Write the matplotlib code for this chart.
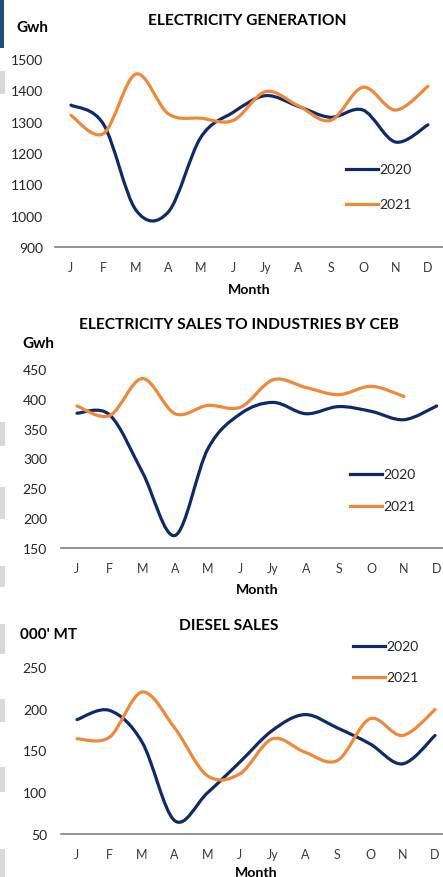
import numpy as np
import matplotlib
matplotlib.use("Agg")
import matplotlib.pyplot as plt
from matplotlib.path import Path
from matplotlib.patches import PathPatch, Rectangle
from matplotlib.lines import Line2D

plt.rcParams['font.family'] = ['Lato', 'DejaVu Sans']

months = ["J", "F", "M", "A", "M", "J", "Jy", "A", "S", "O", "N", "D"]

gen_2020 = [1353, 1292, 1018, 1012, 1250, 1330, 1383, 1349, 1314, 1337, 1235, 1290]
gen_2021 = [1320, 1262, 1452, 1325, 1311, 1304, 1396, 1351, 1304, 1410, 1337, 1413]

sales_2020 = [376, 373, 277, 171, 316, 375, 394, 375, 387, 379, 365, 388]
sales_2021 = [388, 372, 434, 375, 389, 386, 432, 419, 407, 421, 404]

diesel_2020 = [187, 198, 160, 66, 99, 136, 174, 193, 177, 158, 134, 168]
diesel_2021 = [164, 166, 220, 177, 120, 122, 164, 148, 138, 188, 168, 199]

NAVY = "#0F2A6B"
ORANGE = "#F0883A"

W, H = 443, 878
fig = plt.figure(figsize=(W / 100, H / 100), dpi=100)


def smooth_path(xs, ys):
    """Cubic Bezier (Catmull-Rom style) through the data points."""
    P = np.column_stack([np.asarray(xs, float), np.asarray(ys, float)])
    n = len(P)
    verts = [tuple(P[0])]
    codes = [Path.MOVETO]
    for i in range(n - 1):
        p0 = P[max(i - 1, 0)]
        p1 = P[i]
        p2 = P[i + 1]
        p3 = P[min(i + 2, n - 1)]
        c1 = p1 + (p2 - p0) / 6.0
        c2 = p2 - (p3 - p1) / 6.0
        verts += [tuple(c1), tuple(c2), tuple(p2)]
        codes += [Path.CURVE4] * 3
    return Path(verts, codes)


def px_axes(left, right, top, bottom):
    return fig.add_axes([left / W, 1 - bottom / H, (right - left) / W, (bottom - top) / H])


def panel(x0, spacing, ytop, ybot, ylim, yticks, s20, s21, title, title_xy,
          unit, unit_xy, month_y, leg_x, leg_y1, leg_y2, ylab_right):
    left = x0 - 0.5 * spacing
    right = x0 + 11.5 * spacing
    ax = px_axes(left, right, ytop, ybot)
    ax.set_xlim(-0.5, 11.5)
    ax.set_ylim(*ylim)
    for s in ["top", "right", "left"]:
        ax.spines[s].set_visible(False)
    ax.spines["bottom"].set_color("#7F7F7F")
    ax.spines["bottom"].set_linewidth(1.2)
    ax.patch.set_alpha(0)
    ax.set_xticks(range(12))
    ax.set_xticklabels(months, fontsize=9, color="#3A3A3A")
    ax.tick_params(axis="x", length=0, pad=10)
    ax.set_yticks(yticks)
    ax.set_yticklabels([str(v) for v in yticks], fontsize=10, color="#262626")
    ax.tick_params(axis="y", length=0, pad=(left - ylab_right) * 0.72)
    for vals, col in ((s20, NAVY), (s21, ORANGE)):
        ax.add_patch(PathPatch(smooth_path(range(len(vals)), vals), fill=False,
                               edgecolor=col, lw=2.3, capstyle="round", joinstyle="round",
                               clip_on=False))
    fig.text(title_xy[0] / W, 1 - title_xy[1] / H, title, ha="center", va="center",
             fontsize=11.2, fontweight="bold", color="black")
    fig.text(unit_xy[0] / W, 1 - unit_xy[1] / H, unit, ha="left", va="center",
             fontsize=11, fontweight="bold", color="black")
    fig.text((left + right) / 2 / W, 1 - month_y / H, "Month", ha="center", va="center",
             fontsize=10.2, fontweight="bold", color="black")
    for ly, col, lab in ((leg_y1, NAVY, "2020"), (leg_y2, ORANGE, "2021")):
        fig.add_artist(Line2D([leg_x / W, (leg_x + 32) / W], [1 - ly / H, 1 - ly / H],
                              color=col, lw=2.3, transform=fig.transFigure))
        fig.text((leg_x + 33) / W, 1 - ly / H, lab, ha="left", va="center",
                 fontsize=10, color="#262626")
    return ax


panel(71, 32.45, 60, 248, (900, 1500), [900, 1000, 1100, 1200, 1300, 1400, 1500],
      gen_2020, gen_2021, "ELECTRICITY GENERATION", (247, 21), "Gwh", (16, 28), 290,
      346, 170, 205, 43)

panel(77, 32.7, 370, 549, (150, 450), [150, 200, 250, 300, 350, 400, 450],
      sales_2020, sales_2021, "ELECTRICITY SALES TO INDUSTRIES BY CEB", (239, 325),
      "Gwh", (22, 344), 590, 350, 475, 507, 47)

panel(77, 32.55, 668, 835, (50, 250), [50, 100, 150, 200, 250],
      diesel_2020, diesel_2021, "DIESEL SALES", (229, 626), "000' MT", (20, 635), 873,
      353, 647, 678, 47)

# left-edge page artifacts
fig.add_artist(Rectangle((0, 1 - 49 / H), 4 / W, 49 / H, transform=fig.transFigure,
                         color="#1F4E79", lw=0))
for y0, y1 in [(72, 95), (423, 447), (488, 520), (567, 588), (625, 655), (700, 723),
               (768, 793), (850, 878)]:
    fig.add_artist(Rectangle((0, 1 - y1 / H), 5 / W, (y1 - y0) / H,
                             transform=fig.transFigure, color="#D9D9D9", lw=0))

fig.savefig("out.png", dpi=100)
